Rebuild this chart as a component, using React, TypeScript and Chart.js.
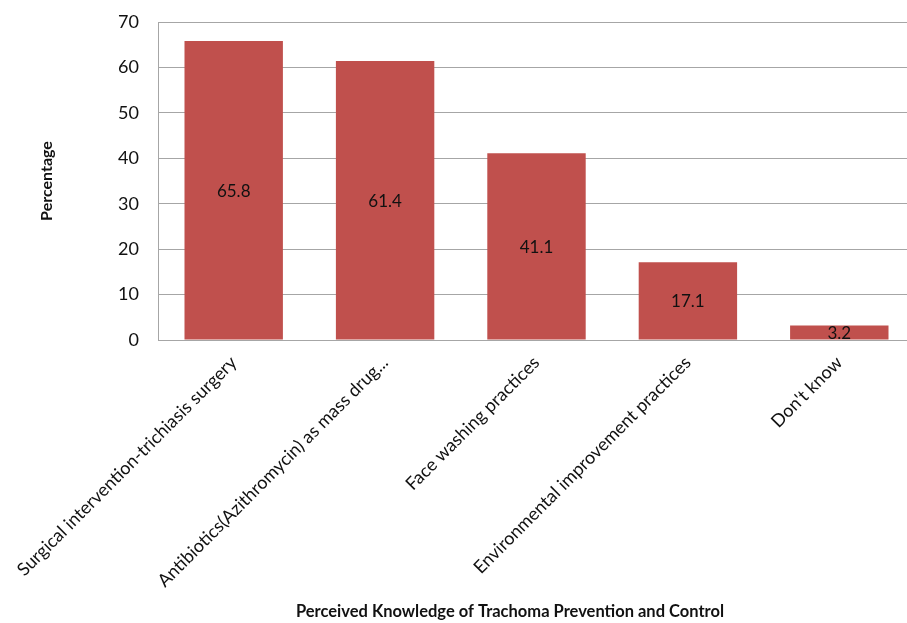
import React, { useEffect, useRef } from "react";
import { Chart, registerables } from "chart.js";

Chart.register(...registerables);

const categories: string[] = [
  "Surgical intervention-trichiasis surgery",
  "Antibiotics(Azithromycin) as mass drug...",
  "Face washing practices",
  "Environmental improvement practices",
  "Don't know",
];
const percentages: number[] = [65.8, 61.4, 41.1, 17.1, 3.2];
const yTicks: number[] = [0, 10, 20, 30, 40, 50, 60, 70];
const xAxisTitle = "Perceived Knowledge of Trachoma Prevention and Control";

const FONT = "Lato, 'Open Sans', sans-serif";
const TEXT = "#111";

// The plot runs a little past the right edge of the visible frame,
// so the canvas is wider than its clipping container.
const FRAME_W = 907;
const FRAME_H = 623;
const CANVAS_W = 915;

// Writes each bar's value in the middle of the bar
const barValueLabels = {
  id: "barValueLabels",
  afterDatasetsDraw(chart: any) {
    const { ctx } = chart;
    const meta = chart.getDatasetMeta(0);
    const values = chart.data.datasets[0].data as number[];
    ctx.save();
    ctx.font = `17px ${FONT}`;
    ctx.fillStyle = TEXT;
    ctx.textAlign = "center";
    ctx.textBaseline = "middle";
    meta.data.forEach((bar: any, i: number) => {
      const { x, y, base } = bar.getProps(["x", "y", "base"], true);
      ctx.fillText(values[i].toFixed(1), x, (y + base) / 2 + 1);
    });
    ctx.restore();
  },
};

// Category axis title, centred under the whole figure rather than the plot area
const categoryAxisTitle = {
  id: "categoryAxisTitle",
  afterDraw(chart: any) {
    const { ctx } = chart;
    ctx.save();
    ctx.font = `bold 16.5px ${FONT}`;
    ctx.fillStyle = TEXT;
    ctx.textAlign = "center";
    ctx.textBaseline = "middle";
    ctx.fillText(xAxisTitle, 510, 612);
    ctx.restore();
  },
};

export default function App() {
  const canvasRef = useRef<HTMLCanvasElement | null>(null);

  useEffect(() => {
    document.body.style.margin = "0";
    const canvas = canvasRef.current;
    if (!canvas) return;
    const chart = new Chart(canvas, {
      type: "bar",
      data: {
        labels: categories,
        datasets: [
          {
            data: percentages,
            backgroundColor: "#C0504D",
            borderWidth: 0,
            barPercentage: 0.65,
            categoryPercentage: 1,
          },
        ],
      },
      options: {
        responsive: false,
        animation: false,
        events: [],
        layout: { padding: { top: 22, right: 0, bottom: 0, left: 0 } },
        plugins: {
          legend: { display: false },
          tooltip: { enabled: false },
        },
        scales: {
          x: {
            grid: { display: false, drawTicks: false },
            border: { display: true, color: "#A6A6A6", width: 1 },
            ticks: {
              autoSkip: false,
              minRotation: 45,
              maxRotation: 45,
              padding: 12,
              color: TEXT,
              font: { family: FONT, size: 18 },
            },
            afterFit(scale: any) {
              scale.height = 283;
              scale.paddingLeft = 0;
              scale.paddingRight = 0;
            },
          },
          y: {
            min: 0,
            max: 70,
            afterBuildTicks(scale: any) {
              scale.ticks = yTicks.map((v) => ({ value: v }));
            },
            grid: { color: "#A6A6A6", lineWidth: 1, drawTicks: false },
            border: { display: true, color: "#A6A6A6", width: 1 },
            ticks: {
              padding: 19,
              color: TEXT,
              font: { family: FONT, size: 18 },
            },
            title: {
              display: true,
              text: "Percentage",
              color: TEXT,
              font: { family: FONT, size: 16, weight: "bold" },
              padding: { top: 37, bottom: 0 },
            },
            afterFit(scale: any) {
              scale.width = 158;
              scale.paddingTop = 0;
              scale.paddingBottom = 0;
            },
          },
        },
      },
      plugins: [barValueLabels, categoryAxisTitle],
    });
    return () => chart.destroy();
  }, []);

  return (
    <div
      style={{
        position: "absolute",
        left: 0,
        top: 0,
        width: FRAME_W,
        height: FRAME_H,
        background: "#fff",
        overflow: "hidden",
      }}
    >
      <canvas ref={canvasRef} width={CANVAS_W} height={FRAME_H} style={{ display: "block" }} />
    </div>
  );
}
